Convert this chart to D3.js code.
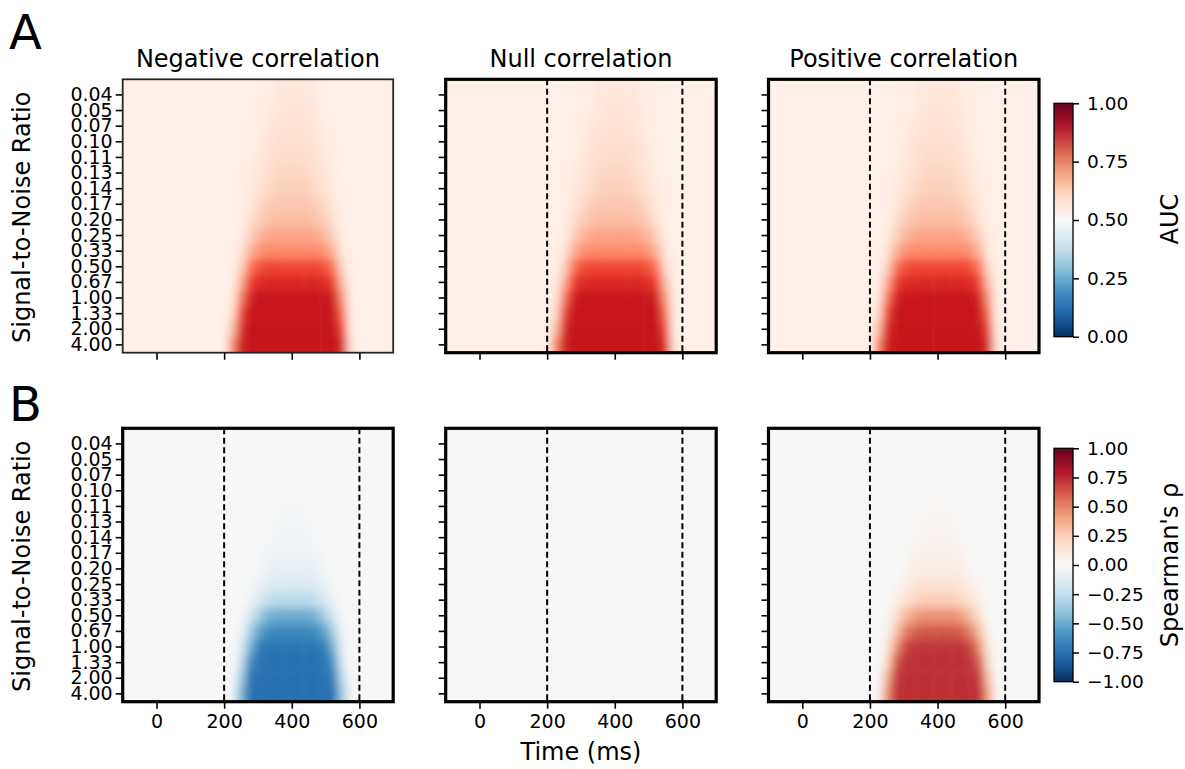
<!DOCTYPE html>
<html><head><meta charset="utf-8">
<script src="https://cdn.jsdelivr.net/npm/d3@7"></script>
<style>body{margin:0;background:#fff} svg{display:block} text{font-family:"DejaVu Sans",sans-serif;fill:#000}</style>
</head><body><svg id="chart" width="1185" height="769"></svg>
<script>
// ---------------- data ----------------
const snrLabels = ["0.04","0.05","0.07","0.10","0.11","0.13","0.14","0.17","0.20","0.25","0.33","0.50","0.67","1.00","1.33","2.00","4.00"];
const timeCols = [200,225,250,275,300,325,350,375,400,425,450,475,500,525,550,575,600];
const timeTicks = [0,200,400,600];
const timeDomain = [-100,700];
const windowLines = [200,600];
const panelTitles = ["Negative correlation","Null correlation","Positive correlation"];
const aucTicks = [0,0.25,0.5,0.75,1];
const rhoTicks = [-1,-0.75,-0.5,-0.25,0,0.25,0.5,0.75,1];
const aucBackground = 0.515;
const rhoBackground = 0;
const rdBuColors = ["#67001f","#b2182b","#d6604d","#f4a582","#fddbc7","#f7f7f7","#d1e5f0","#92c5de","#4393c3","#2166ac","#053061"];
const redsColors = ["#fff5f0","#fee0d2","#fcbba1","#fc9272","#fb6a4a","#ef3b2c","#cb181d","#a50f15","#67000d"];

const aucNegative = [
[.515,.515,.515,.515,.52,.525,.535,.545,.545,.545,.54,.53,.52,.515,.515,.515,.515],
[.515,.515,.515,.515,.52,.53,.54,.55,.55,.55,.545,.535,.52,.515,.515,.515,.515],
[.515,.515,.515,.52,.525,.54,.55,.555,.555,.555,.55,.54,.525,.515,.515,.515,.515],
[.515,.515,.515,.52,.53,.55,.56,.565,.565,.565,.56,.55,.53,.52,.515,.515,.515],
[.515,.515,.515,.525,.54,.555,.565,.57,.57,.57,.565,.555,.54,.525,.515,.515,.515],
[.515,.515,.52,.53,.545,.56,.575,.58,.58,.58,.575,.56,.545,.53,.515,.515,.515],
[.515,.515,.52,.535,.55,.57,.585,.59,.59,.59,.585,.57,.55,.53,.52,.515,.515],
[.515,.515,.52,.54,.57,.59,.605,.605,.605,.605,.605,.59,.57,.54,.52,.515,.515],
[.515,.515,.525,.56,.59,.61,.625,.625,.625,.625,.625,.61,.59,.55,.52,.515,.515],
[.515,.515,.53,.58,.63,.65,.66,.66,.66,.66,.66,.65,.63,.58,.53,.515,.515],
[.515,.52,.55,.63,.68,.70,.70,.70,.70,.70,.70,.70,.68,.63,.54,.515,.515],
[.515,.52,.58,.72,.78,.80,.80,.80,.80,.80,.80,.80,.78,.72,.57,.52,.515],
[.515,.52,.64,.80,.84,.85,.85,.85,.85,.85,.85,.85,.84,.80,.62,.52,.515],
[.515,.54,.72,.86,.88,.88,.88,.88,.88,.88,.88,.88,.88,.86,.68,.52,.515],
[.515,.57,.80,.88,.88,.88,.88,.88,.88,.88,.88,.88,.88,.88,.74,.52,.515],
[.515,.62,.85,.885,.885,.885,.885,.885,.885,.885,.885,.885,.885,.885,.80,.53,.515],
[.515,.70,.87,.885,.885,.885,.885,.885,.885,.885,.885,.885,.885,.885,.85,.56,.515]];

const aucNull = [
[.515,.515,.515,.515,.52,.525,.535,.545,.545,.545,.54,.53,.52,.515,.515,.515,.515],
[.515,.515,.515,.515,.52,.53,.54,.55,.55,.55,.545,.535,.52,.515,.515,.515,.515],
[.515,.515,.515,.52,.525,.54,.55,.555,.555,.555,.55,.54,.525,.515,.515,.515,.515],
[.515,.515,.515,.52,.53,.55,.56,.565,.565,.565,.56,.55,.53,.52,.515,.515,.515],
[.515,.515,.515,.525,.54,.555,.565,.57,.57,.57,.565,.555,.54,.525,.515,.515,.515],
[.515,.515,.52,.53,.545,.56,.575,.58,.58,.58,.575,.56,.545,.53,.515,.515,.515],
[.515,.515,.52,.535,.55,.57,.585,.59,.59,.59,.585,.57,.55,.53,.52,.515,.515],
[.515,.515,.52,.54,.57,.59,.605,.605,.605,.605,.605,.59,.57,.54,.52,.515,.515],
[.515,.515,.525,.56,.59,.61,.625,.625,.625,.625,.625,.61,.59,.55,.52,.515,.515],
[.515,.515,.53,.58,.63,.65,.66,.66,.66,.66,.66,.65,.63,.58,.53,.515,.515],
[.515,.52,.55,.63,.68,.70,.70,.70,.70,.70,.70,.70,.68,.63,.54,.515,.515],
[.515,.52,.58,.72,.78,.80,.80,.80,.80,.80,.80,.80,.78,.72,.57,.52,.515],
[.515,.52,.64,.80,.84,.85,.85,.85,.85,.85,.85,.85,.84,.80,.62,.52,.515],
[.515,.54,.72,.86,.88,.88,.88,.88,.88,.88,.88,.88,.88,.86,.68,.52,.515],
[.515,.57,.80,.88,.88,.88,.88,.88,.88,.88,.88,.88,.88,.88,.74,.52,.515],
[.515,.62,.85,.885,.885,.885,.885,.885,.885,.885,.885,.885,.885,.885,.80,.53,.515],
[.515,.70,.87,.885,.885,.885,.885,.885,.885,.885,.885,.885,.885,.885,.85,.56,.515]];

const aucPositive = [
[.515,.515,.515,.515,.52,.525,.535,.545,.545,.545,.54,.53,.52,.515,.515,.515,.515],
[.515,.515,.515,.515,.52,.53,.54,.55,.55,.55,.545,.535,.52,.515,.515,.515,.515],
[.515,.515,.515,.52,.525,.54,.55,.555,.555,.555,.55,.54,.525,.515,.515,.515,.515],
[.515,.515,.515,.52,.53,.55,.56,.565,.565,.565,.56,.55,.53,.52,.515,.515,.515],
[.515,.515,.515,.525,.54,.555,.565,.57,.57,.57,.565,.555,.54,.525,.515,.515,.515],
[.515,.515,.52,.53,.545,.56,.575,.58,.58,.58,.575,.56,.545,.53,.515,.515,.515],
[.515,.515,.52,.535,.55,.57,.585,.59,.59,.59,.585,.57,.55,.53,.52,.515,.515],
[.515,.515,.52,.54,.57,.59,.605,.605,.605,.605,.605,.59,.57,.54,.52,.515,.515],
[.515,.515,.525,.56,.59,.61,.625,.625,.625,.625,.625,.61,.59,.55,.52,.515,.515],
[.515,.515,.53,.58,.63,.65,.66,.66,.66,.66,.66,.65,.63,.58,.53,.515,.515],
[.515,.52,.55,.63,.68,.70,.70,.70,.70,.70,.70,.70,.68,.63,.54,.515,.515],
[.515,.52,.58,.72,.78,.80,.80,.80,.80,.80,.80,.80,.78,.72,.57,.52,.515],
[.515,.52,.64,.80,.84,.85,.85,.85,.85,.85,.85,.85,.84,.80,.62,.52,.515],
[.515,.54,.72,.86,.88,.88,.88,.88,.88,.88,.88,.88,.88,.86,.68,.52,.515],
[.515,.57,.80,.88,.88,.88,.88,.88,.88,.88,.88,.88,.88,.88,.74,.52,.515],
[.515,.62,.85,.885,.885,.885,.885,.885,.885,.885,.885,.885,.885,.885,.80,.53,.515],
[.515,.70,.87,.885,.885,.885,.885,.885,.885,.885,.885,.885,.885,.885,.85,.56,.515]];

const rhoNegative = [
[0,0,0,0,0,0,0,0,0,0,0,0,0,0,0,0,0],
[0,0,0,0,0,0,0,0,0,0,0,0,0,0,0,0,0],
[0,0,0,0,0,0,0,0,0,0,0,0,0,0,0,0,0],
[0,0,0,0,0,0,0,0,0,0,0,0,0,0,0,0,0],
[0,0,0,0,0,0,0,-.02,-.02,-.02,0,0,0,0,0,0,0],
[0,0,0,0,0,0,-.02,-.03,-.03,-.03,-.02,0,0,0,0,0,0],
[0,0,0,0,0,-.01,-.03,-.04,-.04,-.04,-.03,-.01,0,0,0,0,0],
[0,0,0,0,-.01,-.04,-.06,-.06,-.06,-.06,-.06,-.04,-.01,0,0,0,0],
[0,0,0,0,-.02,-.06,-.09,-.09,-.09,-.09,-.09,-.06,-.02,0,0,0,0],
[0,0,0,-.02,-.07,-.12,-.15,-.15,-.15,-.15,-.15,-.12,-.07,-.02,0,0,0],
[0,0,0,-.05,-.15,-.23,-.27,-.27,-.27,-.27,-.27,-.23,-.15,-.06,0,0,0],
[0,0,-.02,-.15,-.32,-.45,-.5,-.5,-.5,-.5,-.5,-.45,-.32,-.15,-.02,0,0],
[0,0,-.05,-.3,-.52,-.62,-.65,-.65,-.65,-.65,-.65,-.62,-.52,-.3,-.04,0,0],
[0,0,-.12,-.45,-.68,-.74,-.74,-.74,-.74,-.74,-.74,-.74,-.68,-.45,-.08,0,0],
[0,0,-.22,-.62,-.74,-.76,-.76,-.76,-.76,-.76,-.76,-.76,-.74,-.58,-.15,0,0],
[0,0,-.35,-.72,-.76,-.76,-.76,-.76,-.76,-.76,-.76,-.76,-.76,-.68,-.25,0,0],
[0,-.02,-.45,-.75,-.76,-.76,-.76,-.76,-.76,-.76,-.76,-.76,-.76,-.74,-.35,-.02,0]];

const rhoNull = [
[0,0,0,0,0,0,0,0,0,0,0,0,0,0,0,0,0],
[0,0,0,0,0,0,0,0,0,0,0,0,0,0,0,0,0],
[0,0,0,0,0,0,0,0,0,0,0,0,0,0,0,0,0],
[0,0,0,0,0,0,0,0,0,0,0,0,0,0,0,0,0],
[0,0,0,0,0,0,0,0,0,0,0,0,0,0,0,0,0],
[0,0,0,0,0,0,0,0,0,0,0,0,0,0,0,0,0],
[0,0,0,0,0,0,0,0,0,0,0,0,0,0,0,0,0],
[0,0,0,0,0,0,0,0,0,0,0,0,0,0,0,0,0],
[0,0,0,0,0,0,0,0,0,0,0,0,0,0,0,0,0],
[0,0,0,0,0,0,0,0,0,0,0,0,0,0,0,0,0],
[0,0,0,0,0,0,0,0,0,0,0,0,0,0,0,0,0],
[0,0,0,0,0,0,0,0,0,0,0,0,0,0,0,0,0],
[0,0,0,0,0,0,0,0,0,0,0,0,0,0,0,0,0],
[0,0,0,0,0,0,0,0,0,0,0,0,0,0,0,0,0],
[0,0,0,0,0,0,0,0,0,0,0,0,0,0,0,0,0],
[0,0,0,0,0,0,0,0,0,0,0,0,0,0,0,0,0],
[0,0,0,0,0,0,0,0,0,0,0,0,0,0,0,0,0]];

const rhoPositive = [
[0,0,0,0,0,0,0,0,0,0,0,0,0,0,0,0,0],
[0,0,0,0,0,0,0,0,0,0,0,0,0,0,0,0,0],
[0,0,0,0,0,0,0,0,.01,0,0,0,0,0,0,0,0],
[0,0,0,0,0,0,0,.015,.015,.015,0,0,0,0,0,0,0],
[0,0,0,0,0,0,0,.02,.02,.02,0,0,0,0,0,0,0],
[0,0,0,0,0,0,.02,.03,.03,.03,.02,0,0,0,0,0,0],
[0,0,0,0,0,.01,.03,.04,.04,.04,.03,.01,0,0,0,0,0],
[0,0,0,0,.01,.04,.06,.06,.06,.06,.06,.04,.01,0,0,0,0],
[0,0,0,0,.02,.06,.08,.08,.08,.08,.08,.06,.02,0,0,0,0],
[0,0,0,.02,.07,.11,.14,.14,.14,.14,.14,.11,.07,.02,0,0,0],
[0,0,0,.05,.14,.2,.25,.25,.25,.25,.25,.2,.14,.06,0,0,0],
[0,0,.02,.14,.3,.4,.45,.45,.45,.45,.45,.4,.3,.14,.02,0,0],
[0,0,.04,.25,.48,.58,.62,.62,.62,.62,.62,.58,.5,.28,.05,0,0],
[0,0,.1,.42,.65,.72,.72,.72,.72,.72,.72,.72,.66,.45,.1,0,0],
[0,0,.2,.6,.72,.74,.74,.74,.74,.74,.74,.74,.72,.6,.18,0,0],
[0,0,.35,.7,.74,.74,.74,.74,.74,.74,.74,.74,.74,.7,.3,0,0],
[0,.03,.45,.73,.74,.74,.74,.74,.74,.74,.74,.74,.74,.73,.4,.03,0]];

// ---------------- layout ----------------
const svg = d3.select("#chart");
const W = 270.5, H = 273.4;
const lefts = [122.7, 445.7, 768.5];
const tops = [79.3, 428.3];
const cbX = 1054, cbW = 19;
const cbRows = [[103.3, 336.7], [448.3, 681.7]];

// matplotlib-style (piecewise linear) colormaps
const rdBuR = d3.scaleLinear().domain(d3.range(11).map(i => i / 10)).range(rdBuColors.slice().reverse()).interpolate(d3.interpolateRgb).clamp(true);
const reds = d3.scaleLinear().domain(d3.range(9).map(i => i / 8)).range(redsColors).interpolate(d3.interpolateRgb).clamp(true);
const aucColor = v => reds((v - 0.5) / 0.5);
const rhoColor = v => rdBuR((v + 1) / 2);

const rows = [
  {label:"A", bg: aucBackground, color: aucColor, data: [aucNegative, aucNull, aucPositive], cbDomain:[0,1], cbTicks: aucTicks, cbLabel:"AUC"},
  {label:"B", bg: rhoBackground, color: rhoColor, data: [rhoNegative, rhoNull, rhoPositive], cbDomain:[-1,1], cbTicks: rhoTicks, cbLabel:"Spearman's ρ"}
];

const defs = svg.append("defs");
defs.append("filter").attr("id","smooth").attr("x","-10%").attr("y","-10%").attr("width","120%").attr("height","120%")
  .append("feGaussianBlur").attr("stdDeviation","4.5 5");

const fmt = d => (d < 0 ? "\u2212" : "") + Math.abs(d).toFixed(2);

rows.forEach((row, ri) => {
  const top = tops[ri];
  const step = H / 17.5;
  const y = d3.scaleBand().domain(snrLabels).range([top + step / 2, top + H]).paddingInner(0).paddingOuter(0);

  row.data.forEach((mat, ci) => {
    const left = lefts[ci];
    const x = d3.scaleLinear().domain(timeDomain).range([left, left + W]);
    const clipId = `clip${ri}${ci}`;
    defs.append("clipPath").attr("id", clipId).append("rect")
      .attr("x", left).attr("y", top).attr("width", W).attr("height", H);

    const g = svg.append("g").attr("clip-path", `url(#${clipId})`);
    const hm = g.append("g").attr("filter", "url(#smooth)");
    hm.append("rect").attr("x", left - 30).attr("y", top - 30).attr("width", W + 60).attr("height", H + 60)
      .attr("fill", row.color(row.bg));
    const cells = [];
    mat.forEach((r, i) => r.forEach((v, j) => cells.push({i, j, v})));
    hm.selectAll("rect.cell").data(cells).join("rect").attr("class","cell")
      .attr("x", d => x(timeCols[d.j] - 12.5))
      .attr("width", d => x(timeCols[d.j] + 12.5) - x(timeCols[d.j] - 12.5) + 0.3)
      .attr("y", d => d.i === 0 ? top - 20 : y(snrLabels[d.i]))
      .attr("height", d => {
        const y0 = d.i === 0 ? top - 20 : y(snrLabels[d.i]);
        const y1 = d.i === snrLabels.length - 1 ? top + H + 20 : y(snrLabels[d.i]) + y.bandwidth();
        return y1 - y0 + 0.3;
      })
      .attr("fill", d => row.color(d.v));

    // dashed window lines
    if (!(ri === 0 && ci === 0)) {
      g.selectAll("line.win").data(windowLines).join("line").attr("class","win")
        .attr("x1", d => x(d)).attr("x2", d => x(d)).attr("y1", top).attr("y2", top + H)
        .attr("stroke", "#000").attr("stroke-width", 2).attr("stroke-dasharray", "6,3.5");
    }

    // axes
    const yAxis = d3.axisLeft(y).tickSize(7).tickPadding(3);
    if (ci !== 0) yAxis.tickFormat("");
    const ya = svg.append("g").attr("transform", `translate(${left},0)`).call(yAxis);
    const xAxis = d3.axisBottom(x).tickValues(timeTicks).tickSize(7).tickPadding(6);
    if (ri === 0) xAxis.tickFormat("");
    const xa = svg.append("g").attr("transform", `translate(0,${top + H})`).call(xAxis);
    [ya, xa].forEach(a => {
      a.select(".domain").remove();
      a.selectAll(".tick line").attr("stroke", "#000").attr("stroke-width", 1.6);
      a.selectAll(".tick text").attr("font-size", 19).attr("font-family", "DejaVu Sans").attr("fill", "#000");
    });

    // frame
    const thin = ri === 0 && ci === 0;
    svg.append("rect").attr("x", left).attr("y", top).attr("width", W).attr("height", H)
      .attr("fill", "none").attr("stroke", thin ? "#262626" : "#000").attr("stroke-width", thin ? 1.8 : 3.2);

    if (ri === 0) {
      svg.append("text").attr("x", left + W / 2).attr("y", 66.5).attr("text-anchor", "middle")
        .attr("font-size", 24).text(panelTitles[ci]);
    }
  });

  // y label
  svg.append("text").attr("transform", `translate(30,${top + 138}) rotate(-90)`)
    .attr("text-anchor", "middle").attr("font-size", 24).text("Signal-to-Noise Ratio");
  // panel letter
  svg.append("text").attr("x", 9).attr("y", ri === 0 ? 48.5 : 421).attr("font-size", 48).text(row.label);

  // colorbar
  const [cy0, cy1] = cbRows[ri];
  const gradId = `grad${ri}`;
  const grad = defs.append("linearGradient").attr("id", gradId).attr("x1",0).attr("y1",1).attr("x2",0).attr("y2",0);
  d3.range(0, 1.0001, 0.05).forEach(t => grad.append("stop").attr("offset", t).attr("stop-color", rdBuR(t)));
  svg.append("rect").attr("x", cbX).attr("y", cy0).attr("width", cbW).attr("height", cy1 - cy0)
    .attr("fill", `url(#${gradId})`).attr("stroke", "#000").attr("stroke-width", 1.3);
  const cs = d3.scaleLinear().domain(row.cbDomain).range([cy1, cy0]);
  const ca = svg.append("g").attr("transform", `translate(${cbX + cbW},0)`)
    .call(d3.axisRight(cs).tickValues(row.cbTicks).tickFormat(fmt).tickSize(6).tickPadding(8));
  ca.select(".domain").remove();
  ca.selectAll(".tick line").attr("stroke", "#000").attr("stroke-width", 1.5);
  ca.selectAll(".tick text").attr("font-size", 18.5).attr("font-family", "DejaVu Sans").attr("fill", "#000");
  svg.append("text").attr("transform", `translate(1178,${ri === 0 ? 219 : 565}) rotate(-90)`)
    .attr("text-anchor", "middle").attr("font-size", 24).text(row.cbLabel);
});

svg.append("text").attr("x", lefts[1] + W / 2).attr("y", 760).attr("text-anchor", "middle")
  .attr("font-size", 24).text("Time (ms)");
</script></body></html>
